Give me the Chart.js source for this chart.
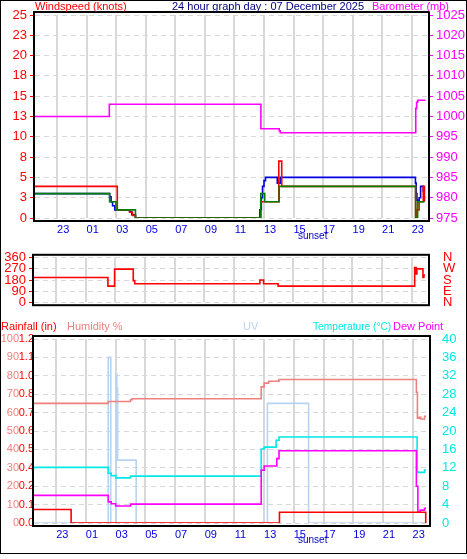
<!DOCTYPE html>
<html>
<head>
<meta charset="utf-8">
<script src="https://cdn.jsdelivr.net/npm/chart.js@4/dist/chart.umd.min.js"></script>
<style>
  body { margin: 0; background: #fff; font-family: "Liberation Sans", Arial, sans-serif; }
  #wrap { position: relative; width: 467px; height: 559px; overflow: hidden; }
  #frame { position: absolute; left: 0; top: 0; width: 465px; height: 552px; border: 1px solid #000; }
  canvas { position: absolute; left: 0; }
  .lbl { position: absolute; font-size: 11px; white-space: nowrap; line-height: 13px; }
</style>
</head>
<body>
<div id="wrap">
  <div id="frame"></div>
  <canvas id="c1" width="467" height="240" style="top:0"></canvas>
  <canvas id="c2" width="467" height="80" style="top:240px"></canvas>
  <canvas id="c3" width="467" height="235" style="top:320px"></canvas>
  <div class="lbl" style="left:35px;top:0;color:#f00">Windspeed (knots)</div>
  <div class="lbl" style="left:172px;top:0;color:#000080">24 hour graph day : 07 December 2025</div>
  <div class="lbl" style="left:372px;top:0;color:#f0f">Barometer (mb)</div>
  <div class="lbl" style="left:298px;top:229px;color:#0000c0;font-size:10px">sunset</div>
  <div class="lbl" style="left:1px;top:320px;color:#f00">Rainfall (in)</div>
  <div class="lbl" style="left:67px;top:320px;color:#f08080">Humidity %</div>
  <div class="lbl" style="left:243px;top:320px;color:#b8d4f0">UV</div>
  <div class="lbl" style="left:313px;top:320px;color:#00e8e8;font-size:10.2px">Temperature (°C)</div>
  <div class="lbl" style="left:393px;top:320px;color:#f0f">Dew Point</div>
  <div class="lbl" style="left:298px;top:533px;color:#0000c0;font-size:10px">sunset</div>
</div>
<script>
// hours relative to midnight of the graph day (-1 = 23:00 the day before)
const hourTicks = [-1, 1, 3, 5, 7, 9, 11, 13, 15, 17, 19, 21, 23];
const windTicks = [0, 2.5, 5, 7.5, 10, 12.5, 15, 17.5, 20, 22.5, 25];
const baroTicks = [975, 980, 985, 990, 995, 1000, 1005, 1010, 1015, 1020, 1025];
const dirTicks = [0, 90, 180, 270, 360];
const dirNames = ['N', 'E', 'S', 'W', 'N'];

const avgTimes = [-2.5, 2.55, 2.98, 4.3, 12.78, 13.05, 14.03, 23.26, 23.4, 23.86];
const avgSpeed = [3.0, 2.0, 1.0, 0, 3.0, 2.0, 3.9, 0, 2.0, 2.0];
const blueTimes = [-2.5, 2.55, 2.65, 2.75, 2.9, 3.9, 4.05, 4.3, 12.72, 12.82, 12.9, 13.0, 13.1, 13.9, 14.1, 23.25, 23.3, 23.35, 23.5, 23.6, 23.78, 23.86];
const blueSpeed = [3.0, 2.6, 2.0, 1.5, 1.0, 0.8, 0.4, 0, 1.0, 2.5, 3.9, 4.6, 5.0, 4.3, 5.0, 4.3, 3.0, 2.2, 2.5, 3.9, 3.3, 3.3];
const gustTimes = [-2.5, 3.07, 3.9, 4.1, 4.3, 12.78, 14.0, 14.2, 23.26, 23.35, 23.5, 23.78, 23.86];
const gustSpeed = [3.9, 1.0, 0.7, 0.3, 0, 2.0, 7.0, 3.9, 0, 1.0, 2.0, 3.9, 2.0];
const baroTimes = [-2.5, 2.53, 12.79, 14.03, 14.1, 23.27, 23.33, 23.4, 23.93];
const baroValues = [1000, 1003, 997, 996.5, 996, 1002, 1003.5, 1004, 1004];

const dirTimes = [-2.5, 2.49, 2.94, 4.2, 4.3, 12.75, 13.0, 13.98, 23.2, 23.3, 23.35, 23.4, 23.76, 23.82, 23.9];
const dirValues = [200, 130, 268, 175, 150, 180, 150, 130, 280, 230, 270, 270, 200, 220, 220];

const humTimes = [-2.5, 2.5, 4.0, 4.1, 12.8, 13.0, 13.3, 14.0, 23.25, 23.32, 23.45, 23.55, 23.8, 23.9];
const humValues = [65, 66, 67, 67.5, 74, 76, 77, 78, 71, 57, 57.5, 56.5, 58, 58];
const rainTimes = [-2.5, 0.0, 14.03, 23.88, 23.9];
const rainValues = [0.088, 0, 0.07, 0, 0];
const tempTimes = [-2.5, 2.5, 2.7, 3.0, 4.0, 12.8, 13.0, 13.8, 14.0, 23.3, 23.35, 23.8, 23.9];
const tempValues = [12.1, 10.8, 10.3, 9.8, 10.2, 16.1, 16.5, 18.0, 18.7, 11.2, 11.0, 11.5, 11.5];
const dewTimes = [-2.5, 2.5, 2.7, 3.0, 4.0, 12.8, 13.0, 13.85, 14.0, 23.25, 23.35, 23.5, 23.8, 23.9];
const dewValues = [6.0, 4.6, 4.2, 3.7, 4.1, 11.5, 12.4, 14.0, 15.7, 8, 2.4, 2.8, 3.2, 3.2];
const uvTimes = [-2.5, 2.5, 2.67, 3.03, 3.08, 3.13, 4.38, 13.22, 15.99, 23.9];
const uvValues = [0, 10.8, 0, 9.7, 8.8, 4.1, 0, 7.8, 0, 0];

const humTicks = [0, 10, 20, 30, 40, 50, 60, 70, 80, 90, 100];
const rainTicks = humTicks.map(v => v * 0.012);
const tempTicks = [0, 4, 8, 12, 16, 20, 24, 28, 32, 36, 40];

const font = { family: '"Liberation Sans", Arial, sans-serif', size: 13 };

function pts(times, vals) {
    return times.map((t, i) => ({ x: t, y: vals[i] }));
}
function line(label, times, vals, color, axis, order) {
    return { label, data: pts(times, vals), borderColor: color, borderWidth: 1.6,
             pointRadius: 0, stepped: 'before', yAxisID: axis, order: order };
}
function fixed(list) {
    return s => { s.ticks = list.map(v => ({ value: v })); };
}
function xAxis(show) {
    return {
        type: 'linear', min: -2.5, max: 24.1,
        afterBuildTicks: fixed(hourTicks),
        afterFit: s => { s.height = show; },
        grid: { color: '#d8d8d8', lineWidth: 2, drawTicks: false },
        border: { display: false },
        ticks: { display: show > 12, autoSkip: false, maxRotation: 0, color: '#0000e0', font: { ...font, size: 11 },
                 padding: 5, labelOffset: 6, callback: v => String((v + 24) % 24).padStart(2, '0') }
    };
}
function yAxis(pos, min, max, list, color, width, opts) {
    opts = opts || {};
    return {
        position: pos, min, max, weight: opts.weight || 0,
        afterBuildTicks: fixed(list),
        afterFit: s => { s.width = width; },
        grid: { drawOnChartArea: !!opts.grid, color: '#d8d8d8', tickColor: opts.tick || 'transparent', tickLength: opts.tl === undefined ? 5 : opts.tl },
        border: { display: false, dash: [5, 4] },
        ticks: { autoSkip: false, color, font: { ...font, size: opts.size || 13 }, padding: opts.pad === undefined ? 3 : opts.pad,
                 callback: opts.cb || (v => v) }
    };
}
const framePlugin = {
    id: 'frame',
    afterDraw(chart) {
        const a = chart.chartArea, c = chart.ctx;
        c.save();
        c.strokeStyle = '#000';
        c.lineWidth = 2;
        c.strokeRect(a.left - 1, a.top - 3, a.right - a.left + 2, a.bottom - a.top + 6);
        c.restore();
    }
};
const base = {
    responsive: false, animation: false,
    plugins: { legend: { display: false }, tooltip: { enabled: false } }
};

// lower order is drawn on top
new Chart(document.getElementById('c1'), {
    type: 'line',
    data: { datasets: [
        line('Wind speed', avgTimes, avgSpeed, '#008000', 'y', 0),
        line('Gust', gustTimes, gustSpeed, '#ff0000', 'y', 1),
        line('Wind', blueTimes, blueSpeed, '#0000e0', 'y', 2),
        line('Barometer', baroTimes, baroValues, '#ff00ff', 'baro', 3)
    ] },
    options: { ...base, layout: { padding: { top: 15 } },
        scales: {
            x: xAxis(22),
            y: yAxis('left', 0, 25, windTicks, '#ff0000', 35, { grid: true, tick: '#ff0000', cb: v => Math.round(v) }),
            baro: yAxis('right', 975, 1025, baroTicks, '#ff00ff', 39, { tick: '#ff00ff' })
        } },
    plugins: [framePlugin]
});

new Chart(document.getElementById('c2'), {
    type: 'line',
    data: { datasets: [
        line('Direction', dirTimes, dirValues, '#ff0000', 'y', 0),
        line('', dirTimes, dirValues, 'transparent', 'dir', 1)
    ] },
    options: { ...base, layout: { padding: { top: 6, bottom: 9 } },
        scales: {
            x: xAxis(0),
            y: yAxis('left', 0, 360, dirTicks, '#ff0000', 34, { grid: true, tick: '#ff0000' }),
            dir: yAxis('right', 0, 360, dirTicks, '#ff0000', 39, { pad: 10, cb: v => dirNames[dirTicks.indexOf(v)] })
        } },
    plugins: [framePlugin]
});

new Chart(document.getElementById('c3'), {
    type: 'line',
    data: { datasets: [
        line('Rainfall', rainTimes, rainValues, '#ff0000', 'rain', 0),
        line('Dew Point', dewTimes, dewValues, '#ff00ff', 'temp', 1),
        line('Temperature', tempTimes, tempValues, '#00e8e8', 'temp', 2),
        line('Humidity', humTimes, humValues, '#f08080', 'y', 3),
        line('UV', uvTimes, uvValues, '#b8d4f0', 'uv', 4)
    ] },
    options: { ...base, layout: { padding: { top: 19 } },
        scales: {
            x: xAxis(32),
            y: yAxis('left', 0, 100, humTicks, '#f08080', 19, { grid: true, weight: 2, pad: 0, tl: 0, size: 11 }),
            rain: yAxis('left', 0, 1.2, rainTicks, '#ff0000', 15, { weight: 1, pad: 0, tl: 0, size: 11, cb: v => v.toFixed(1) }),
            temp: yAxis('right', 0, 40, tempTicks, '#00e8e8', 38, { pad: 8 }),
            uv: { display: false, min: 0, max: 12 }
        } },
    plugins: [framePlugin]
});
</script>
</body>
</html>
